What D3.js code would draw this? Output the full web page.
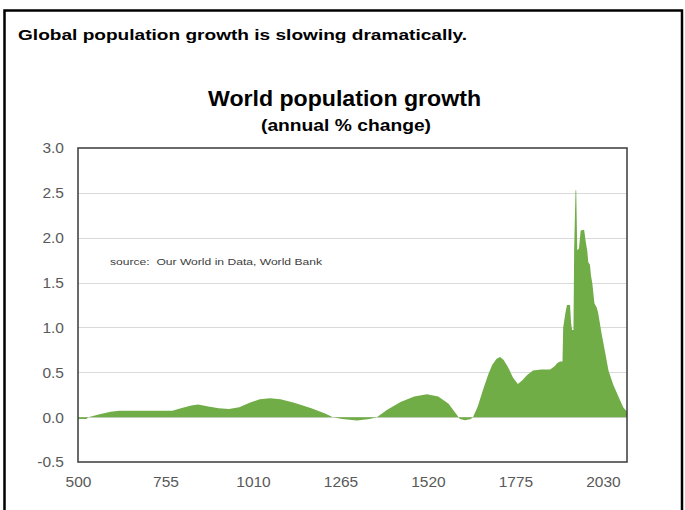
<!DOCTYPE html>
<html><head><meta charset="utf-8">
<script src="https://cdn.jsdelivr.net/npm/d3@7"></script>
<style>
html,body{margin:0;padding:0;background:#fff;}
svg{display:block;font-family:"Liberation Sans",Arial,sans-serif;}
</style></head>
<body><svg id="chart" width="685" height="510"></svg>
<script>
// ---- data ----
const years = [500,525,530,560,595,620,700,775,800,830,850,880,910,940,970,1000,1030,1060,1090,1130,1180,1220,1243,1270,1313,1350,1371,1400,1440,1480,1517,1550,1580,1605,1613,1628,1645,1651,1665,1680,1695,1707,1720,1730,1740,1753,1768,1782,1795,1809,1826,1850,1876,1890,1896,1905,1912,1914,1920,1925,1934,1937,1940,1944,1946,1950,1952,1955,1960,1965,1975,1980,1984,1987,1992,1995,1999,2005,2012,2016,2026,2036,2046,2060,2075,2089,2100];
const growth = [-0.02,-0.02,0.0,0.03,0.06,0.07,0.07,0.07,0.1,0.13,0.14,0.12,0.1,0.09,0.11,0.16,0.2,0.21,0.2,0.16,0.1,0.04,0.0,-0.02,-0.037,-0.02,0.0,0.08,0.17,0.23,0.255,0.23,0.15,0.02,-0.02,-0.035,-0.02,0.0,0.12,0.3,0.47,0.58,0.65,0.67,0.64,0.56,0.44,0.37,0.41,0.47,0.52,0.53,0.53,0.57,0.6,0.62,0.62,1.0,1.15,1.25,1.25,1.05,0.97,0.97,1.88,2.53,2.53,1.86,1.88,2.08,2.09,1.95,1.86,1.73,1.7,1.58,1.49,1.27,1.22,1.16,0.93,0.73,0.52,0.36,0.23,0.11,0.06];
const xTicks = [500,755,1010,1265,1520,1775,2030];
const yTicks = [-0.5,0.0,0.5,1.0,1.5,2.0,2.5,3.0];
const gridValues = [0.0,0.5,1.0,1.5,2.0,2.5];
const headline = "Global population growth is slowing dramatically.";
const chartTitle = "World population growth";
const chartSubtitle = "(annual % change)";
const sourceNote = "source:  Our World in Data, World Bank";

// ---- layout ----
const svg = d3.select("#chart");
const plot = {left:78, top:148, right:627, bottom:462};
const x = d3.scaleLinear().domain([500,2100]).range([plot.left, plot.right]);
const y = d3.scaleLinear().domain([-0.5,3.0]).range([plot.bottom, plot.top]);
const fmtY = d => d.toFixed(1); // plain hyphen-minus like the reference

// outer frame
svg.append("rect").attr("x",4.5).attr("y",10.5).attr("width",677.5).attr("height",520)
  .attr("fill","none").attr("stroke","#000").attr("stroke-width",2.5);

// headline
svg.append("text").attr("x",18).attr("y",40).attr("font-size",15).attr("font-weight","bold")
  .attr("fill","#000").attr("textLength",449).attr("lengthAdjust","spacingAndGlyphs").text(headline);

// chart titles
svg.append("text").attr("x",344.5).attr("y",106).attr("text-anchor","middle").attr("font-size",22)
  .attr("font-weight","bold").attr("fill","#000").attr("textLength",273).attr("lengthAdjust","spacingAndGlyphs").text(chartTitle);
svg.append("text").attr("x",346).attr("y",131).attr("text-anchor","middle").attr("font-size",17)
  .attr("font-weight","bold").attr("fill","#000").attr("textLength",170).attr("lengthAdjust","spacingAndGlyphs").text(chartSubtitle);

// gridlines
svg.append("g").selectAll("line").data(gridValues).join("line")
  .attr("x1",plot.left).attr("x2",plot.right)
  .attr("y1",d=>Math.round(y(d))+0.5).attr("y2",d=>Math.round(y(d))+0.5)
  .attr("stroke","#d9d9d9").attr("stroke-width",1);

// area
const data = years.map((yr,i)=>({year:yr, v:growth[i]}));
const area = d3.area().x(d=>x(d.year)).y0(y(0)).y1(d=>y(d.v)).curve(d3.curveLinear);
svg.append("path").datum(data).attr("d",area).attr("fill","#70ad47");

// source note
svg.append("text").attr("x",110).attr("y",265).attr("font-size",9.5).attr("fill","#404040")
  .style("white-space","pre").attr("xml:space","preserve")
  .attr("textLength",212).attr("lengthAdjust","spacingAndGlyphs").text(sourceNote);

// plot border
svg.append("rect").attr("x",plot.left).attr("y",plot.top).attr("width",plot.right-plot.left)
  .attr("height",plot.bottom-plot.top).attr("fill","none").attr("stroke","#3a3a3a").attr("stroke-width",1.5);

// axes
const yAxis = svg.append("g").attr("transform",`translate(${plot.left-14},0)`)
  .call(d3.axisLeft(y).tickValues(yTicks).tickSize(0).tickPadding(0).tickFormat(fmtY));
yAxis.select(".domain").remove();
yAxis.selectAll("text").attr("font-size",15.5).attr("fill","#595959").attr("font-family","Liberation Sans, Arial, sans-serif");

const xAxis = svg.append("g").attr("transform",`translate(0,${plot.bottom+10})`)
  .call(d3.axisBottom(x).tickValues(xTicks).tickSize(0).tickPadding(4).tickFormat(d3.format("d")));
xAxis.select(".domain").remove();
xAxis.selectAll("text").attr("font-size",15.5).attr("fill","#595959").attr("font-family","Liberation Sans, Arial, sans-serif");
</script></body></html>
